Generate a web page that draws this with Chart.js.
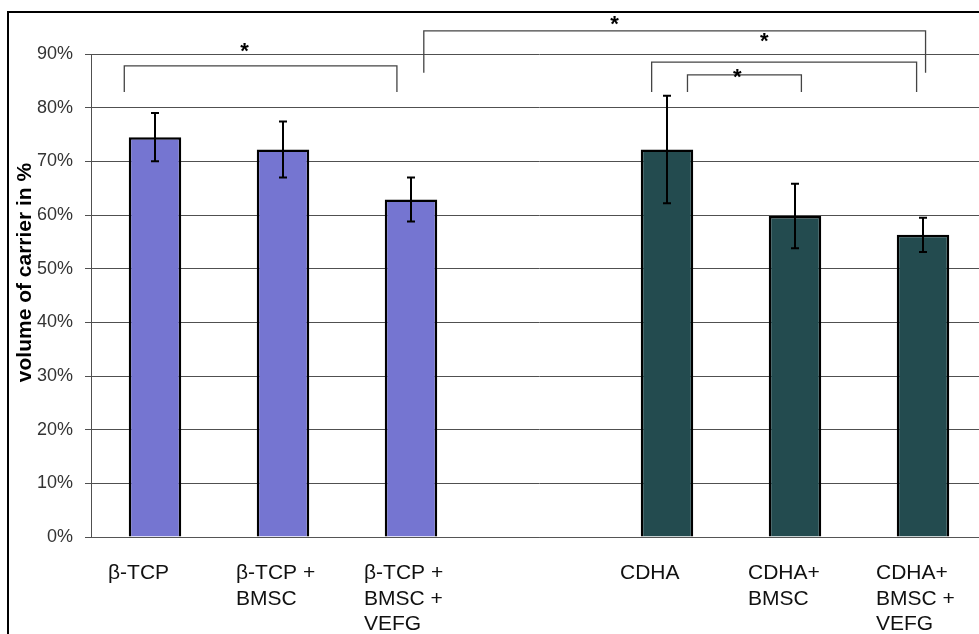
<!DOCTYPE html>
<html>
<head>
<meta charset="utf-8">
<script src="https://cdn.jsdelivr.net/npm/chart.js@4"></script>
<style>
  html, body { margin: 0; padding: 0; background: #fff; overflow: hidden; }
  canvas { position: absolute; left: 0; top: 0; }
</style>
</head>
<body>
<canvas id="carrier" width="1000" height="660"></canvas>
<script>
// categories (empty slot separates the two carrier groups)
const categories = [
  ['β-TCP'],
  ['β-TCP +', 'BMSC'],
  ['β-TCP +', 'BMSC +', 'VEFG'],
  '',
  ['CDHA'],
  ['CDHA+', 'BMSC'],
  ['CDHA+', 'BMSC +', 'VEFG']
];
const tcpValues  = [74.5, 72.2, 62.9, null, null, null, null];
const cdhaValues = [null, null, null, null, 72.2, 59.8, 56.3];
const errors     = [4.5, 5.2, 4.1, null, 10.0, 6.0, 3.2];
const yTicks = [0, 10, 20, 30, 40, 50, 60, 70, 80, 90];
const yTitle = 'volume of carrier in %';

// significance brackets, in category index / percent units
const bracketFrom   = [-0.24, 2.10, 3.88, 4.16];
const bracketTo     = [1.89, 6.02, 5.95, 5.05];
const bracketTop    = [87.8, 94.3, 88.5, 86.1];
const bracketBottom = [82.9, 86.5, 82.9, 82.9];
const starX = [0.70, 3.59, 4.76, 4.55];
const starY = [91.5, 96.6, 93.3, 86.7];

const FONT = "'Liberation Sans', Arial, sans-serif";

const extras = {
  id: 'extras',
  beforeDraw(chart) {
    const ctx = chart.ctx;
    ctx.save();
    ctx.strokeStyle = '#000';
    ctx.lineWidth = 2;
    ctx.strokeRect(8, 12, 1200, 1200);
    ctx.restore();
  },
  afterDatasetsDraw(chart) {
    const ctx = chart.ctx;
    const x = chart.scales.x, y = chart.scales.y;
    // error bars
    ctx.save();
    ctx.strokeStyle = '#000';
    ctx.lineWidth = 2;
    chart.data.datasets.forEach((ds, di) => {
      chart.getDatasetMeta(di).data.forEach((bar, i) => {
        const v = ds.data[i];
        if (v == null || errors[i] == null) return;
        const top = y.getPixelForValue(v + errors[i]);
        const bot = y.getPixelForValue(v - errors[i]);
        ctx.beginPath();
        ctx.moveTo(bar.x, top); ctx.lineTo(bar.x, bot);
        ctx.moveTo(bar.x - 4, top); ctx.lineTo(bar.x + 4, top);
        ctx.moveTo(bar.x - 4, bot); ctx.lineTo(bar.x + 4, bot);
        ctx.stroke();
      });
    });
    ctx.restore();

    // brackets and stars
    const p0 = x.getPixelForValue(0);
    const step = x.getPixelForValue(1) - p0;
    const px = v => p0 + v * step;
    ctx.save();
    ctx.strokeStyle = '#444';
    ctx.lineWidth = 1.3;
    bracketFrom.forEach((f, i) => {
      const t = y.getPixelForValue(bracketTop[i]);
      const b = y.getPixelForValue(bracketBottom[i]);
      ctx.beginPath();
      ctx.moveTo(px(f), b);
      ctx.lineTo(px(f), t);
      ctx.lineTo(px(bracketTo[i]), t);
      ctx.lineTo(px(bracketTo[i]), b);
      ctx.stroke();
    });
    ctx.fillStyle = '#000';
    ctx.font = 'bold 22px ' + FONT;
    ctx.textAlign = 'center';
    ctx.textBaseline = 'alphabetic';
    starX.forEach((sx, i) => {
      ctx.fillText('*', px(sx), y.getPixelForValue(starY[i]) + 12);
    });
    ctx.restore();

    // y axis title
    ctx.save();
    ctx.translate(25, (chart.chartArea.top + chart.chartArea.bottom) / 2 - 23);
    ctx.rotate(-Math.PI / 2);
    ctx.font = 'bold 21px ' + FONT;
    ctx.fillStyle = '#000';
    ctx.textAlign = 'center';
    ctx.textBaseline = 'middle';
    ctx.fillText(yTitle, 0, 0);
    ctx.restore();
  }
};

new Chart(document.getElementById('carrier'), {
  type: 'bar',
  data: {
    labels: categories,
    datasets: [
      { label: 'β-TCP', data: tcpValues, backgroundColor: '#7575D1', borderColor: '#000', borderWidth: 2.5 },
      { label: 'CDHA', data: cdhaValues, backgroundColor: '#234B4F', borderColor: '#000', borderWidth: 2.5 }
    ]
  },
  options: {
    responsive: false,
    animation: false,
    skipNull: true,
    categoryPercentage: 1,
    barPercentage: 0.41,
    layout: { padding: { top: 54, right: 13, left: 0, bottom: 0 } },
    plugins: { legend: { display: false }, tooltip: { enabled: false } },
    scales: {
      x: {
        grid: { display: false },
        border: { display: true, color: '#555', width: 1 },
        ticks: {
          color: '#111',
          font: { family: FONT, size: 21 },
          align: 'start',
          labelOffset: -47,
          padding: 16,
          maxRotation: 0,
          autoSkip: false
        },
        afterFit: s => { s.height = 123; s.paddingLeft = 0; s.paddingRight = 0; }
      },
      y: {
        min: 0,
        max: 90,
        afterBuildTicks: s => { s.ticks = yTicks.map(v => ({ value: v })); },
        grid: { color: '#505050', lineWidth: 1, tickLength: 6 },
        border: { color: '#505050', width: 1 },
        ticks: {
          color: '#333',
          font: { family: FONT, size: 18 },
          padding: 12,
          callback: v => v + '%'
        },
        afterFit: s => { s.width = 91; }
      }
    }
  },
  plugins: [extras]
});
</script>
</body>
</html>
